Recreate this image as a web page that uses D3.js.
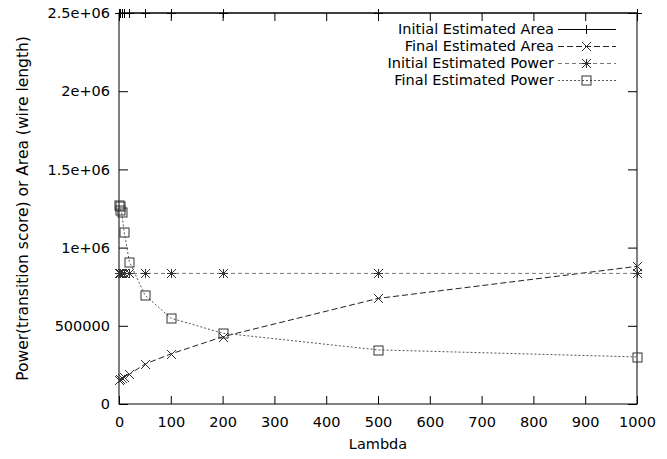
<!DOCTYPE html>
<html>
<head>
<meta charset="utf-8">
<script src="https://cdn.jsdelivr.net/npm/d3@7"></script>
<style>
  html, body { margin: 0; padding: 0; background: #fff; }
  svg text { font-family: "DejaVu Sans", sans-serif; }
</style>
</head>
<body>
<div id="chart"></div>
<script>
// lambda values on the x axis
var lambdas = [0, 1, 2, 5, 10, 20, 50, 100, 200, 500, 1000];

// series values
var initialArea  = [2500000, 2500000, 2500000, 2500000, 2500000, 2500000, 2500000, 2500000, 2500000, 2500000, 2500000];
var finalArea    = [155000, 158000, 160000, 165000, 175000, 190000, 255000, 320000, 430000, 675000, 880000];
var initialPower = [835000, 835000, 835000, 835000, 835000, 835000, 835000, 835000, 835000, 835000, 835000];
var finalPower   = [1270000, 1265000, 1240000, 1230000, 1100000, 910000, 697000, 549000, 453000, 346000, 301000];

var seriesNames = ["Initial Estimated Area", "Final Estimated Area", "Initial Estimated Power", "Final Estimated Power"];

var xTicks = [0, 100, 200, 300, 400, 500, 600, 700, 800, 900, 1000];
var yTicks = [0, 500000, 1000000, 1500000, 2000000, 2500000];
var yTickLabels = ["0", "500000", "1e+06", "1.5e+06", "2e+06", "2.5e+06"];

var width = 667, height = 459;
var margin = {left: 119, right: 30, top: 13, bottom: 55};
var fontSize = "14.5px";

var svg = d3.select("#chart").append("svg")
    .attr("width", width)
    .attr("height", height);

var x = d3.scaleLinear().domain([0, 1000]).range([margin.left, width - margin.right]);
var y = d3.scaleLinear().domain([0, 2500000]).range([height - margin.bottom, margin.top]);

// axes, gnuplot style: ticks point inward, mirrored on top/right
function styleAxis(g) {
    g.select(".domain").remove();
    g.selectAll(".tick line").attr("stroke", "#000").attr("stroke-width", 1);
    g.selectAll(".tick text").attr("fill", "#000").attr("font-size", fontSize);
}

svg.append("g")
    .attr("transform", "translate(0," + y(0) + ")")
    .call(d3.axisBottom(x).tickValues(xTicks).tickSize(-8).tickPadding(13).tickFormat(d3.format("d")))
    .call(styleAxis);

svg.append("g")
    .attr("transform", "translate(0," + y(2500000) + ")")
    .call(d3.axisTop(x).tickValues(xTicks).tickSize(-8).tickFormat(""))
    .call(styleAxis);

svg.append("g")
    .attr("transform", "translate(" + x(0) + ",0)")
    .call(d3.axisLeft(y).tickValues(yTicks).tickSize(-9).tickPadding(9)
        .tickFormat(function(d, i) { return yTickLabels[i]; }))
    .call(styleAxis);

svg.append("g")
    .attr("transform", "translate(" + x(1000) + ",0)")
    .call(d3.axisRight(y).tickValues(yTicks).tickSize(-9).tickFormat(""))
    .call(styleAxis);

// border
svg.append("rect")
    .attr("x", x(0))
    .attr("y", y(2500000))
    .attr("width", x(1000) - x(0))
    .attr("height", y(0) - y(2500000))
    .attr("fill", "none")
    .attr("stroke", "#000")
    .attr("stroke-width", 1);

// axis titles
svg.append("text")
    .attr("x", (x(0) + x(1000)) / 2)
    .attr("y", 449)
    .attr("text-anchor", "middle")
    .attr("font-size", fontSize)
    .text("Lambda");

svg.append("text")
    .attr("transform", "translate(28," + (y(0) + y(2500000)) / 2 + ") rotate(-90)")
    .attr("text-anchor", "middle")
    .attr("font-size", "15.5px")
    .text("Power(transition score) or Area (wire length)");

// point symbols
function drawPoint(g, kind, cx, cy, color) {
    var s = 4.5;
    if (kind == "plus" || kind == "star") {
        g.append("path").attr("d", "M" + (cx - s) + "," + cy + "H" + (cx + s) + "M" + cx + "," + (cy - s) + "V" + (cy + s))
            .attr("stroke", color).attr("fill", "none");
    }
    if (kind == "cross" || kind == "star") {
        g.append("path").attr("d", "M" + (cx - s) + "," + (cy - s) + "L" + (cx + s) + "," + (cy + s) +
                "M" + (cx - s) + "," + (cy + s) + "L" + (cx + s) + "," + (cy - s))
            .attr("stroke", color).attr("fill", "none");
    }
    if (kind == "box") {
        g.append("rect").attr("x", cx - s).attr("y", cy - s).attr("width", 2 * s).attr("height", 2 * s)
            .attr("stroke", color).attr("fill", "none");
    }
}

var series = [
    {name: seriesNames[0], values: initialArea,  dash: null,  color: "#000", mark: "#000", point: "plus"},
    {name: seriesNames[1], values: finalArea,    dash: "6,3", color: "#222", mark: "#333", point: "cross"},
    {name: seriesNames[2], values: initialPower, dash: "4,3", color: "#777", mark: "#333", point: "star"},
    {name: seriesNames[3], values: finalPower,   dash: "2,2", color: "#555", mark: "#333", point: "box"}
];

var line = d3.line()
    .x(function(d) { return x(d[0]); })
    .y(function(d) { return y(d[1]); });

series.forEach(function(s, k) {
    var pts = lambdas.map(function(l, i) { return [l, s.values[i]]; });
    var g = svg.append("g");
    g.append("path")
        .attr("d", line(pts))
        .attr("fill", "none")
        .attr("stroke", s.color)
        .attr("stroke-width", 1)
        .attr("stroke-dasharray", s.dash);
    pts.forEach(function(p) {
        drawPoint(g, s.point, Math.round(x(p[0])) + 0.5, Math.round(y(p[1])) + 0.5, s.mark);
    });

    // legend entry
    var ly = 29 + k * 17;
    svg.append("text")
        .attr("x", 554)
        .attr("y", ly)
        .attr("dy", "0.35em")
        .attr("text-anchor", "end")
        .attr("font-size", fontSize)
        .text(s.name);
    svg.append("path")
        .attr("d", "M558," + (ly + 0.5) + "H616")
        .attr("fill", "none")
        .attr("stroke", s.color)
        .attr("stroke-dasharray", s.dash);
    drawPoint(svg, s.point, 586.5, ly + 0.5, s.mark);
});
</script>
</body>
</html>
